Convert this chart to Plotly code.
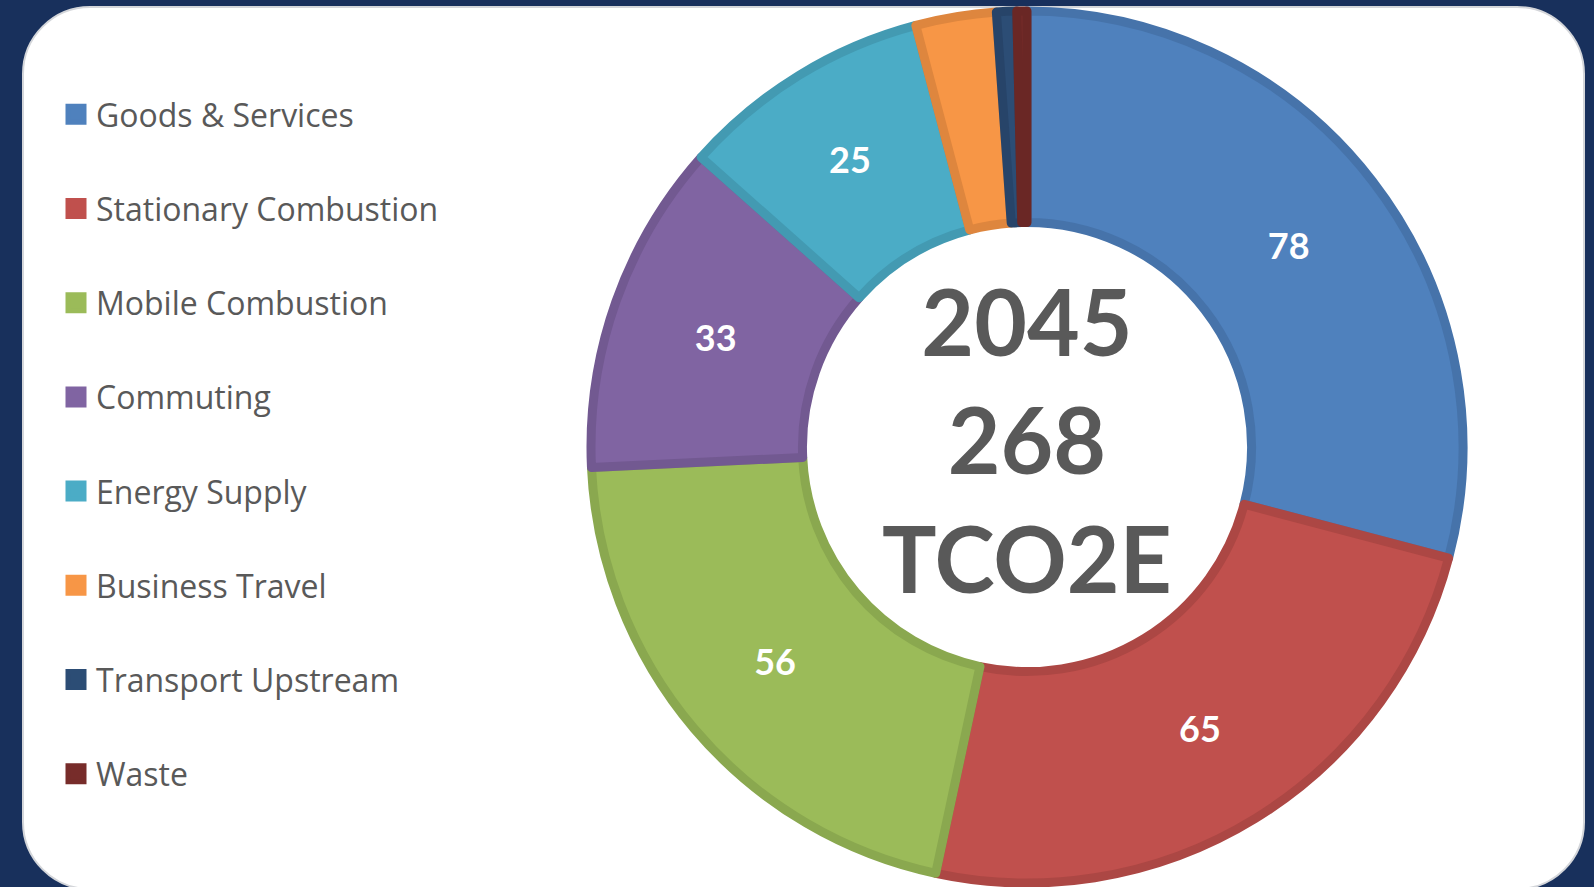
import plotly.graph_objects as go

categories = ["Goods & Services", "Stationary Combustion", "Mobile Combustion", "Commuting",
              "Energy Supply", "Business Travel", "Transport Upstream", "Waste"]
values = [78, 65, 56, 33, 25, 8, 2, 1]
fill_colors = ["#4F81BD", "#C0504D", "#9BBB59", "#8064A2", "#4BACC6", "#F79646", "#2C4D75", "#772C2A"]
border_colors = ["#4673AA", "#AC4744", "#8AA84F", "#725991", "#439AB2", "#DE863E", "#274469", "#6A2725"]
year = "2045"
unit = "TCO2E"
label_min = 20  # slices below this value carry no label

W, H = 1594, 887
total = sum(values)
slice_text = [str(v) if v >= label_min else "" for v in values]

fig = go.Figure()

# Donut
cx, cy, R = 1027, 447, 436
fig.add_trace(go.Pie(
    labels=categories, values=values, text=slice_text, textinfo="text",
    textposition="inside", insidetextorientation="horizontal",
    sort=False, direction="clockwise", rotation=0, hole=0.515,
    marker=dict(colors=fill_colors, line=dict(color=border_colors, width=9)),
    textfont=dict(family="Lato", size=36, color="white", weight="bold"),
    domain=dict(x=[(cx - R) / W, (cx + R) / W], y=[(H - cy - R) / H, (H - cy + R) / H]),
    showlegend=False, hoverinfo="label+value",
))

# Legend entries (one group per category for spacing)
for name, col in zip(categories, fill_colors):
    fig.add_trace(go.Scatter(
        x=[None], y=[None], mode="markers", name=name, legendgroup=name,
        marker=dict(symbol="square", size=16, color=col, line=dict(color=col, width=5)),
        hoverinfo="skip",
    ))

# White rounded panel
x0, x1, y0, y1, r = 23, 1584, 7, 889, 67
k = 0.5523 * r
def P(x, y):
    return f"{x / W:.5f},{(H - y) / H:.5f}"
path = (f"M {P(x0 + r, y0)} L {P(x1 - r, y0)} "
        f"C {P(x1 - r + k, y0)} {P(x1, y0 + r - k)} {P(x1, y0 + r)} "
        f"L {P(x1, y1 - r)} "
        f"C {P(x1, y1 - r + k)} {P(x1 - r + k, y1)} {P(x1 - r, y1)} "
        f"L {P(x0 + r, y1)} "
        f"C {P(x0 + r - k, y1)} {P(x0, y1 - r + k)} {P(x0, y1 - r)} "
        f"L {P(x0, y0 + r)} "
        f"C {P(x0, y0 + r - k)} {P(x0 + r - k, y0)} {P(x0 + r, y0)} Z")

fig.update_layout(
    width=W, height=H,
    margin=dict(l=0, r=0, t=0, b=0),
    paper_bgcolor="#18305C",
    plot_bgcolor="rgba(0,0,0,0)",
    xaxis=dict(visible=False, domain=[0, 0.01]),
    yaxis=dict(visible=False, domain=[0, 0.01]),
    shapes=[dict(type="path", path=path, xref="paper", yref="paper",
                 fillcolor="white", line=dict(color="#D4D6DA", width=2), layer="below")],
    legend=dict(
        x=56 / W, y=1 - 87 / H, xanchor="left", yanchor="top",
        traceorder="grouped", tracegroupgap=49.6, valign="middle",
        font=dict(family="Open Sans", size=32, color="#595959"),
        bgcolor="rgba(0,0,0,0)", itemclick=False, itemdoubleclick=False,
    ),
    annotations=[dict(
        x=cx / W, y=(H - cy + 8) / H, xref="paper", yref="paper",
        text=f"{year}<br>{total}<br>{unit}", showarrow=False,
        font=dict(family="Lato", size=91, color="#595959", weight="bold"),
        align="center", xanchor="center", yanchor="middle",
    )],
)

fig.write_html("out.html",
               config={"displayModeBar": False, "displaylogo": False},
               post_script="document.documentElement.style.margin='0';"
                           "document.body.style.margin='0';"
                           "document.body.style.overflow='hidden';")
